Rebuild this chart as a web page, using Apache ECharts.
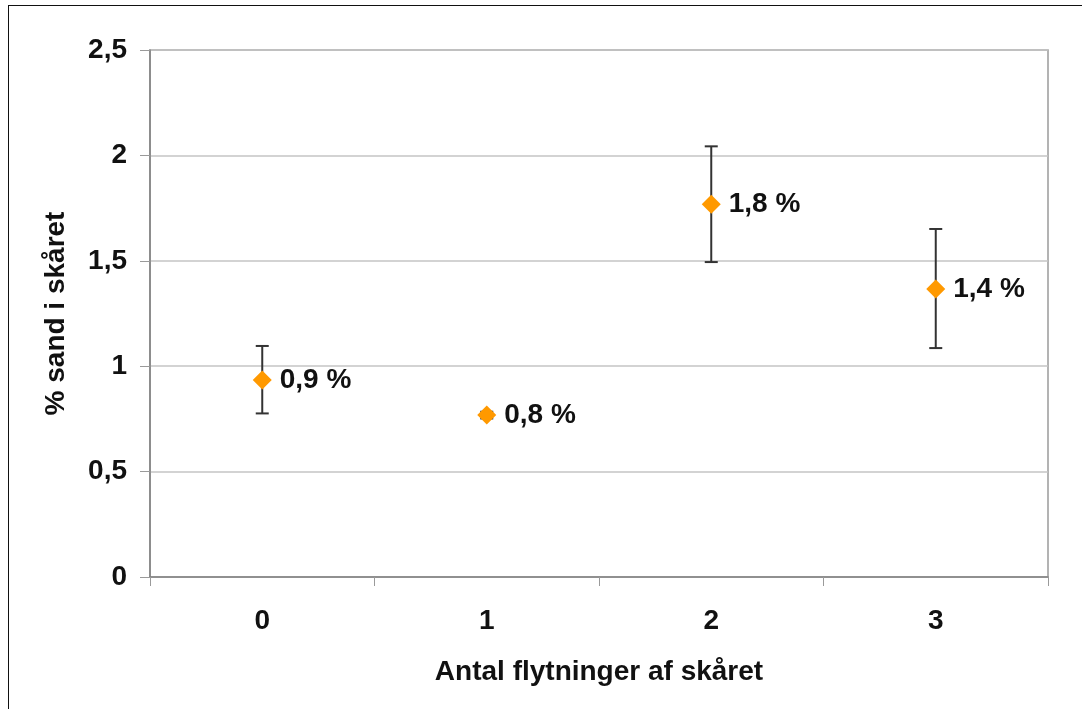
<!DOCTYPE html>
<html>
<head>
<meta charset="utf-8">
<script src="https://cdn.jsdelivr.net/npm/echarts@6/dist/echarts.min.js"></script>
<style>
html,body{margin:0;padding:0;background:#fff;}
#frame{position:absolute;left:8px;top:5px;width:1100px;height:720px;border:1.5px solid #111;box-sizing:border-box;}
#chart{position:absolute;left:0;top:0;width:1082px;height:709px;}
</style>
</head>
<body>
<div id="frame"></div>
<div id="chart"></div>
<script>
const categories = ['0', '1', '2', '3'];
const means = [0.935, 0.768, 1.768, 1.366];
const errLow = [0.776, 0.752, 1.494, 1.086];
const errHigh = [1.096, 0.784, 2.043, 1.651];
const pointLabels = ['0,9 %', '0,8 %', '1,8 %', '1,4 %'];
const yTicks = [0, 0.5, 1, 1.5, 2, 2.5];

const font = '"Liberation Sans", Arial, sans-serif';
const txt = '#111';
const chart = echarts.init(document.getElementById('chart'));
chart.setOption({
  animation: false,
  grid: {left: 150, right: 34, top: 50, bottom: 132, show: true, borderColor: '#9a9a9a', borderWidth: 1.5, backgroundColor: 'transparent'},
  xAxis: {
    type: 'category',
    data: categories,
    boundaryGap: true,
    name: 'Antal flytninger af skåret',
    nameLocation: 'middle',
    nameGap: 81,
    nameTextStyle: {fontFamily: font, fontWeight: 'bold', fontSize: 28, color: txt},
    axisLine: {lineStyle: {color: '#808080', width: 1.5}},
    axisTick: {show: true, length: 9, interval: 0, lineStyle: {color: '#9a9a9a'}},
    axisLabel: {margin: 30, fontFamily: font, fontWeight: 'bold', fontSize: 28, color: txt},
    splitLine: {show: false}
  },
  yAxis: {
    type: 'value',
    min: 0, max: 2.5, interval: 0.5,
    name: '% sand i skåret',
    nameLocation: 'middle',
    nameGap: 80,
    nameRotate: 90,
    nameTextStyle: {fontFamily: font, fontWeight: 'bold', fontSize: 28, color: txt},
    axisLine: {show: true, lineStyle: {color: '#808080', width: 1.5}},
    axisTick: {show: true, length: 10, lineStyle: {color: '#9a9a9a'}},
    axisLabel: {margin: 23, fontFamily: font, fontWeight: 'bold', fontSize: 28, color: txt,
      formatter: v => String(yTicks.find(t => Math.abs(t - v) < 1e-9) ?? v).replace('.', ',')},
    splitLine: {show: true, lineStyle: {color: '#c4c4c4', width: 1.5}}
  },
  series: [
    {
      type: 'custom',
      data: categories.map((c, i) => [i, errLow[i], errHigh[i]]),
      renderItem: function (params, api) {
        const x = api.value(0);
        const lo = api.coord([x, api.value(1)]);
        const hi = api.coord([x, api.value(2)]);
        const hw = 6.5;
        const style = {stroke: '#333', lineWidth: 2};
        return {type: 'group', children: [
          {type: 'line', shape: {x1: lo[0], y1: lo[1], x2: hi[0], y2: hi[1]}, style},
          {type: 'line', shape: {x1: lo[0] - hw, y1: lo[1], x2: lo[0] + hw, y2: lo[1]}, style},
          {type: 'line', shape: {x1: hi[0] - hw, y1: hi[1], x2: hi[0] + hw, y2: hi[1]}, style}
        ]};
      },
      z: 2
    },
    {
      type: 'scatter',
      data: means.map((v, i) => [i, v]),
      symbol: 'diamond',
      symbolSize: [19, 19],
      itemStyle: {color: '#FF9900', opacity: 1},
      label: {
        show: true, position: 'right', distance: 8,
        formatter: p => pointLabels[p.dataIndex],
        fontFamily: font, fontWeight: 'bold', fontSize: 28, color: txt
      },
      emphasis: {disabled: true},
      z: 3
    }
  ]
});
</script>
</body>
</html>
